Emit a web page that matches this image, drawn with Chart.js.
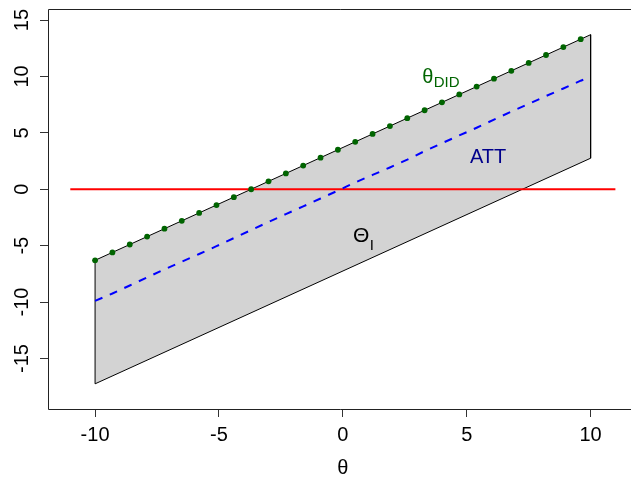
<!DOCTYPE html>
<html>
<head>
<meta charset="utf-8">
<script src="https://cdn.jsdelivr.net/npm/chart.js@4.4.1/dist/chart.umd.min.js"></script>
<style>
  html, body { margin: 0; padding: 0; background: #fff; overflow: hidden; }
</style>
</head>
<body>
<canvas id="chart" width="631" height="479"></canvas>
<script>
// identified set band: corners at theta = -10 and 10
const bandTheta = [-10, 10];
const bandUpper = [-6.3, 13.7];
const bandLower = [-17.25, 2.75];

// theta_DID points (green dots)
const didTheta = [-10, -9.3, -8.6, -7.9, -7.2, -6.5, -5.8, -5.1, -4.4, -3.7, -3.0, -2.3, -1.6, -0.9, -0.2,
                  0.5, 1.2, 1.9, 2.6, 3.3, 4.0, 4.7, 5.4, 6.1, 6.8, 7.5, 8.2, 8.9, 9.6];
const didValues = [-6.3, -5.6, -4.9, -4.2, -3.5, -2.8, -2.1, -1.4, -0.7, 0.0, 0.7, 1.4, 2.1, 2.8, 3.5,
                   4.2, 4.9, 5.6, 6.3, 7.0, 7.7, 8.4, 9.1, 9.8, 10.5, 11.2, 11.9, 12.6, 13.3];

// ATT curve (blue dashed)
const attTheta = [-10, -9.3, -8.6, -7.9, -7.2, -6.5, -5.8, -5.1, -4.4, -3.7, -3.0, -2.3, -1.6, -0.9, -0.2,
                  0.5, 1.2, 1.9, 2.6, 3.3, 4.0, 4.7, 5.4, 6.1, 6.8, 7.5, 8.2, 8.9, 9.6, 10];
const attValues = [-9.9, -9.24, -8.53, -7.82, -7.1, -6.42, -5.74, -5.05, -4.33, -3.62, -2.9, -2.2, -1.52, -0.82, -0.12,
                   0.6, 1.27, 1.93, 2.62, 3.38, 4.08, 4.77, 5.45, 6.17, 6.88, 7.57, 8.26, 8.93, 9.62, 9.95];

// zero reference line
const zeroTheta = [-11, 11];
const zeroValues = [0, 0];

const xTicks = [-10, -5, 0, 5, 10];
const yTicks = [-15, -10, -5, 0, 5, 10, 15];

const FONT = "'Liberation Sans', Arial, sans-serif";

function toPoints(xs, ys) {
    return xs.map((x, i) => ({ x: x, y: ys[i] }));
}

// polygon: upper edge left->right, lower edge right->left, closed
const bandPolygon = [
    { x: bandTheta[0], y: bandUpper[0] },
    { x: bandTheta[1], y: bandUpper[1] },
    { x: bandTheta[1], y: bandLower[1] },
    { x: bandTheta[0], y: bandLower[0] },
    { x: bandTheta[0], y: bandUpper[0] }
];

// frame, y labels, axis title and text annotations
const decorations = {
    id: 'decorations',
    beforeDatasetsDraw(chart) {
        const ctx = chart.ctx;
        const a = chart.chartArea;
        ctx.save();
        ctx.strokeStyle = '#222';
        ctx.lineWidth = 1;
        ctx.beginPath();
        ctx.moveTo(a.right + 2, Math.round(a.top) + 0.5);
        ctx.lineTo(Math.round(a.left) + 0.5, Math.round(a.top) + 0.5);
        ctx.lineTo(Math.round(a.left) + 0.5, Math.round(a.bottom) + 0.5);
        ctx.lineTo(a.right + 2, Math.round(a.bottom) + 0.5);
        ctx.stroke();
        ctx.restore();
    },
    afterDraw(chart) {
        const ctx = chart.ctx;
        const xs = chart.scales.x;
        const ys = chart.scales.y;
        ctx.save();

        // rotated y tick labels
        ctx.fillStyle = '#000';
        ctx.font = '20px ' + FONT;
        ctx.textAlign = 'center';
        ctx.textBaseline = 'middle';
        yTicks.forEach(v => {
            ctx.save();
            ctx.translate(21, ys.getPixelForValue(v));
            ctx.rotate(-Math.PI / 2);
            ctx.fillText(String(v), 0, 1);
            ctx.restore();
        });

        // x axis title
        ctx.textBaseline = 'alphabetic';
        ctx.fillText('θ', xs.getPixelForValue(0), 474);

        // annotations
        ctx.textAlign = 'left';
        function label(main, sub, x, y, color, mainSize, subSize, subDrop) {
            const px = xs.getPixelForValue(x);
            const py = ys.getPixelForValue(y);
            ctx.fillStyle = color;
            ctx.font = mainSize + 'px ' + FONT;
            ctx.fillText(main, px, py);
            if (sub) {
                const w = ctx.measureText(main).width;
                ctx.font = subSize + 'px ' + FONT;
                ctx.fillText(sub, px + w + 0.5, py + subDrop);
            }
        }
        label('θ', 'DID', 3.2, 9.42, '#006400', 20, 15, 4.5);
        label('ATT', null, 5.13, 2.33, '#00008B', 20);
        label('Θ', 'I', 0.41, -4.67, '#000', 21, 15, 8);

        ctx.restore();
    }
};

new Chart(document.getElementById('chart'), {
    type: 'scatter',
    data: {
        datasets: [
            {
                label: 'theta_DID',
                data: toPoints(didTheta, didValues),
                showLine: false,
                pointRadius: 2.9,
                pointBackgroundColor: '#006400',
                pointBorderColor: '#006400',
                pointBorderWidth: 0,
                order: 1
            },
            {
                label: 'ATT',
                data: toPoints(attTheta, attValues),
                showLine: true,
                borderColor: '#0000FF',
                borderWidth: 2,
                borderDash: [8, 8],
                pointRadius: 0,
                fill: false,
                order: 2
            },
            {
                label: 'zero',
                data: toPoints(zeroTheta, zeroValues),
                showLine: true,
                borderColor: '#FF0000',
                borderWidth: 2,
                pointRadius: 0,
                fill: false,
                order: 3
            },
            {
                label: 'Theta_I',
                data: bandPolygon,
                showLine: true,
                borderColor: '#000',
                borderWidth: 1,
                backgroundColor: '#D3D3D3',
                pointRadius: 0,
                fill: 'shape',
                order: 4
            }
        ]
    },
    options: {
        responsive: false,
        animation: false,
        events: [],
        layout: { autoPadding: false, padding: { top: 9.3, right: 0, left: 0, bottom: 0 } },
        plugins: {
            legend: { display: false },
            tooltip: { enabled: false }
        },
        scales: {
            x: {
                type: 'linear',
                min: -11.9,
                max: 11.63,
                afterBuildTicks: s => { s.ticks = xTicks.map(v => ({ value: v })); },
                afterFit: s => {
                    s.height = 70;
                    s.paddingLeft = 0;
                    s.paddingRight = 0;
                },
                border: { display: false },
                grid: {
                    drawOnChartArea: false,
                    drawTicks: true,
                    tickLength: 8,
                    color: '#333',
                    lineWidth: 1
                },
                ticks: {
                    color: '#000',
                    padding: 6,
                    maxRotation: 0,
                    font: { family: FONT, size: 20 }
                }
            },
            y: {
                type: 'linear',
                min: -19.48,
                max: 15.95,
                afterBuildTicks: s => { s.ticks = yTicks.map(v => ({ value: v })); },
                afterFit: s => {
                    s.width = 48;
                    s.paddingTop = 0;
                    s.paddingBottom = 0;
                },
                border: { display: false },
                grid: {
                    drawOnChartArea: false,
                    drawTicks: true,
                    tickLength: 8,
                    color: '#333',
                    lineWidth: 1
                },
                ticks: { display: false }
            }
        }
    },
    plugins: [decorations]
});
</script>
</body>
</html>
